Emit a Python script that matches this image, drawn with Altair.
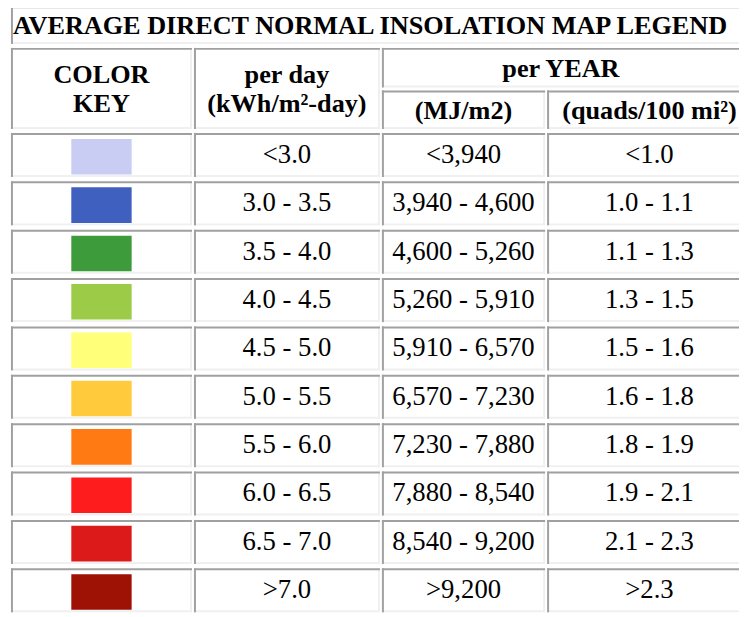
import altair as alt
import pandas as pd

# ---------------- data ----------------
TITLE = "AVERAGE DIRECT NORMAL INSOLATION MAP LEGEND"
HEAD_COLOR = "COLOR\nKEY"
HEAD_DAY = "per day\n(kWh/m²-day)"
HEAD_YEAR = "per YEAR"
HEAD_MJ = "(MJ/m2)"
HEAD_QUADS = "(quads/100 mi²)"

swatch_colors = ["#c9cdf4", "#3f60bf", "#3d9b3b", "#9bcb47", "#ffff7a",
                 "#ffcb3c", "#ff7a12", "#ff1c1c", "#dc1a1a", "#9e1206"]
per_day = ["<3.0", "3.0 - 3.5", "3.5 - 4.0", "4.0 - 4.5", "4.5 - 5.0",
           "5.0 - 5.5", "5.5 - 6.0", "6.0 - 6.5", "6.5 - 7.0", ">7.0"]
mj_per_m2 = ["<3,940", "3,940 - 4,600", "4,600 - 5,260", "5,260 - 5,910",
             "5,910 - 6,570", "6,570 - 7,230", "7,230 - 7,880", "7,880 - 8,540",
             "8,540 - 9,200", ">9,200"]
quads = ["<1.0", "1.0 - 1.1", "1.1 - 1.3", "1.3 - 1.5", "1.5 - 1.6",
         "1.6 - 1.8", "1.8 - 1.9", "1.9 - 2.1", "2.1 - 2.3", ">2.3"]

# ---------------- layout (page pixels) ----------------
COLS = [(11, 194), (196, 384), (386, 551), (553, 760)]
TITLE_ROW = (3, 41)
HEAD_ALL = (45, 127)
HEAD_ROW1 = (45, 85)
HEAD_ROW2 = (88, 127)
ROW0, PITCH, ROW_H = 131, 48.9, 44.5
SWATCH_X = (72, 133)
SWATCH_DY = (6, 42)
BW = 2
DARK, LIGHT = "#a0a0a0", "#f0f0f0"
FONT = "Liberation Serif"
LH = 29

XS = alt.Scale(domain=[8, 747], range=[0, 739], nice=False, zero=False)
YS = alt.Scale(domain=[8, 617], range=[0, 609], nice=False, zero=False)

n = len(per_day)
row_spans = [(ROW0 + i * PITCH, ROW0 + i * PITCH + ROW_H) for i in range(n)]

cells = [
    (11, 760) + TITLE_ROW,
    COLS[0] + HEAD_ALL,
    COLS[1] + HEAD_ALL,
    (COLS[2][0], COLS[3][1]) + HEAD_ROW1,
    COLS[2] + HEAD_ROW2,
    COLS[3] + HEAD_ROW2,
]
for (y1, y2) in row_spans:
    for c in COLS:
        cells.append(c + (y1, y2))

seg = []
for (x1, x2, y1, y2) in cells:
    seg.append(dict(x=x1, x2=x2, y=y2 - BW, y2=y2, c=LIGHT, o=0))
    seg.append(dict(x=x2 - BW, x2=x2, y=y1, y2=y2, c=LIGHT, o=0))
    seg.append(dict(x=x1, x2=x2, y=y1, y2=y1 + BW, c=DARK, o=1))
    seg.append(dict(x=x1, x2=x1 + BW, y=y1, y2=y2, c=DARK, o=1))
seg_df = pd.DataFrame(seg)

sw_df = pd.DataFrame([
    dict(x=SWATCH_X[0], x2=SWATCH_X[1], y=y1 + SWATCH_DY[0], y2=y1 + SWATCH_DY[1], c=col)
    for (y1, _), col in zip(row_spans, swatch_colors)
])

def mid(a):
    return (a[0] + a[1]) / 2

two_line_y = mid(HEAD_ALL) + 1 - LH / 2
bold_df = pd.DataFrame([
    dict(x=mid(COLS[0]), y=two_line_y, t=HEAD_COLOR),
    dict(x=mid(COLS[1]), y=two_line_y, t=HEAD_DAY),
    dict(x=(COLS[2][0] + COLS[3][1]) / 2 - 6, y=mid(HEAD_ROW1) + 1, t=HEAD_YEAR),
    dict(x=mid(COLS[2]), y=mid(HEAD_ROW2) + 1, t=HEAD_MJ),
    dict(x=mid(COLS[3]), y=mid(HEAD_ROW2) + 1, t=HEAD_QUADS),
])

title_df = pd.DataFrame([dict(x=13, y=mid(TITLE_ROW) + 1, t=TITLE)])

txt = []
for (y1, y2), a, b, c in zip(row_spans, per_day, mj_per_m2, quads):
    yc = (y1 + y2) / 2
    txt.append(dict(x=mid(COLS[1]), y=yc, t=a))
    txt.append(dict(x=mid(COLS[2]), y=yc, t=b))
    txt.append(dict(x=mid(COLS[3]), y=yc, t=c))
txt_df = pd.DataFrame(txt)

X = alt.X("x:Q", scale=XS, axis=None)
Y = alt.Y("y:Q", scale=YS, axis=None)

borders = alt.Chart(seg_df).mark_rect().encode(
    x=X, x2="x2:Q", y=Y, y2="y2:Q",
    color=alt.Color("c:N", scale=None), order="o:Q")

swatches = alt.Chart(sw_df).mark_rect().encode(
    x=X, x2="x2:Q", y=Y, y2="y2:Q", color=alt.Color("c:N", scale=None))

head_text = alt.Chart(bold_df).mark_text(
    font=FONT, fontSize=26.5, fontWeight="bold", lineHeight=LH,
    lineBreak="\n", baseline="middle", align="center", color="black"
).encode(x=X, y=Y, text="t:N")

title_text = alt.Chart(title_df).mark_text(
    font=FONT, fontSize=26.5, fontWeight="bold", baseline="middle",
    align="left", color="black"
).encode(x=X, y=Y, text="t:N")

data_text = alt.Chart(txt_df).mark_text(
    font=FONT, fontSize=27, fontWeight="normal", baseline="middle",
    align="center", color="black"
).encode(x=X, y=Y, text="t:N")

chart = alt.layer(borders, swatches, head_text, title_text, data_text).properties(
    width=739, height=609, padding=0,
    autosize=alt.AutoSizeParams(type="none"),
    background="white",
).configure_view(stroke=None)

chart.save("out.html", embed_options={"renderer": "svg", "actions": False})
